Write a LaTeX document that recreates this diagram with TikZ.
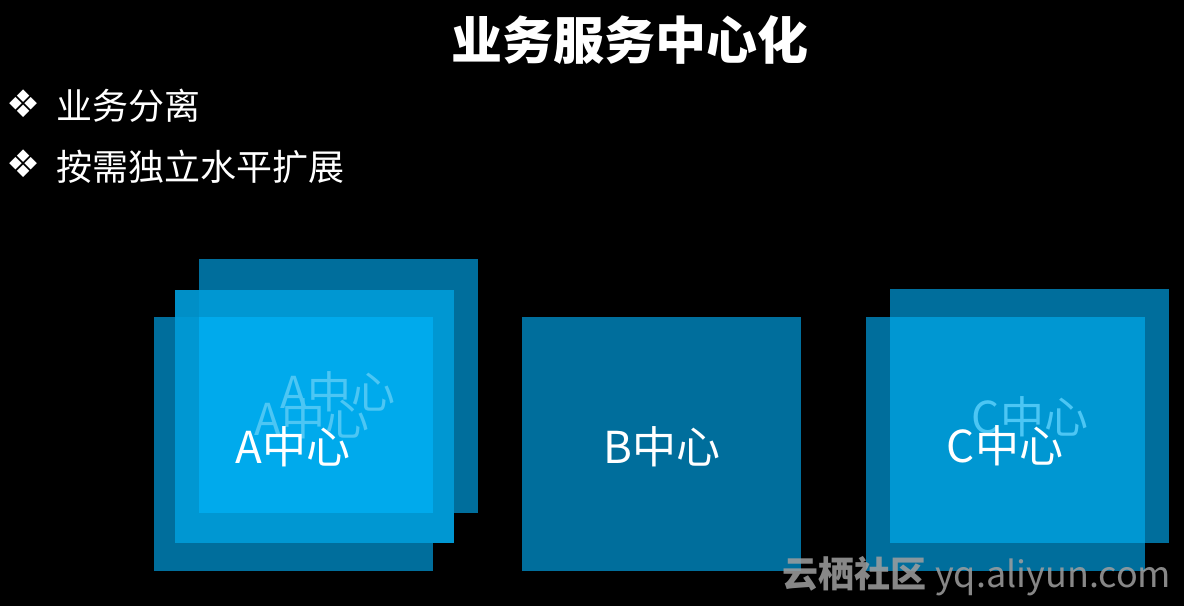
\documentclass[tikz,border=0pt]{standalone}
\usepackage{fontspec}
\setmainfont{Noto Sans CJK SC}
\newfontfamily\djv{DejaVu Sans}
\definecolor{dk}{HTML}{006E9C}
\definecolor{md}{HTML}{0097D2}
\definecolor{br}{HTML}{00AAEC}
\definecolor{gh}{HTML}{4CC6F4}
\tikzset{lbl/.style={text=white,font=\fontsize{44}{44}\selectfont,inner sep=0},
ghost/.style={lbl,text=gh},
bul/.style={text=white,font=\fontsize{36}{40}\selectfont,anchor=west,inner sep=0},
dia/.style={text=white,font=\djv\fontsize{38}{38}\selectfont,inner sep=0}}
\begin{document}
\begin{tikzpicture}[x=1pt,y=-1pt]
\fill[black] (0,0) rectangle (1184,606);
\useasboundingbox (0,0) rectangle (1184,606);
\node[text=white,font=\bfseries\fontsize{51}{54}\selectfont,inner sep=0] (title) at (630,40) {业务服务中心化};
\node[dia] (b1) at (24,104) {❖};
\node[bul] (t1) at (56,106) {业务分离};
\node[dia] (b2) at (24,164) {❖};
\node[bul] (t2) at (56,167) {按需独立水平扩展};
% A stack
\fill[dk] (199,259) rectangle (478,513);
\fill[dk] (175,290) rectangle (454,543);
\fill[dk] (154,317) rectangle (433,571);
\fill[md] (175,290) rectangle (454,543);
\fill[md!80!dk] (175,290) rectangle (199,317);
\fill[br] (199,317) rectangle (433,513);
\node[ghost] (ag2) at (338,392) {A中心};
\node[ghost] (ag1) at (312,419) {A中心};
\node[lbl] (a) at (293,447) {A中心};
% B
\fill[dk] (522,317) rectangle (801,571);
\node[lbl] (b) at (662,447) {B中心};
% C
\fill[dk] (890,289) rectangle (1169,543);
\fill[dk] (866,317) rectangle (1145,571);
\fill[md] (890,317) rectangle (1145,543);
\node[ghost] (cg) at (1030,417) {C中心};
\node[lbl] (c) at (1005,446) {C中心};
\node[text=gray!75,opacity=0.85,font=\bfseries\fontsize{36}{36}\selectfont,inner sep=0] (wm) at (977,576) {云栖社区 \mdseries yq.aliyun.com};
\end{tikzpicture}
\end{document}
